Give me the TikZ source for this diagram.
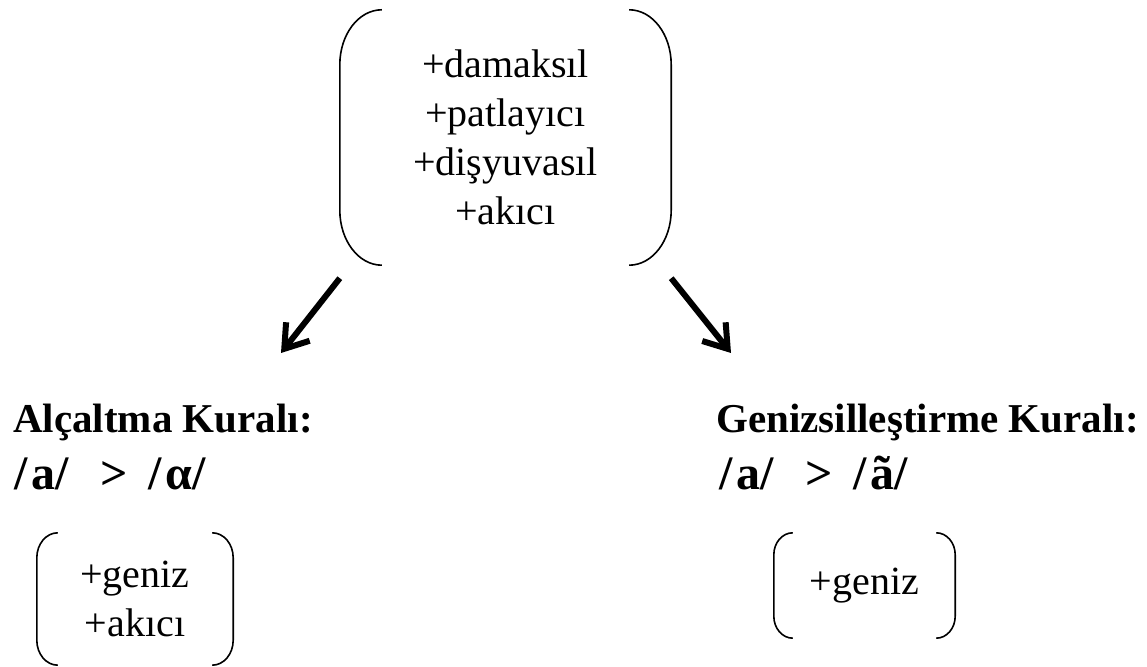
\documentclass[tikz,border=0pt]{standalone}
\usepackage{fontspec}
\setmainfont{Liberation Serif}
\usetikzlibrary{arrows.meta}
\newcommand\featbrackets[3]{%
  \draw[brk] ([xshift=#2pt]#1.north west) arc[start angle=90,end angle=180,x radius=#2pt,y radius=#3pt]
     -- ([yshift=#3pt]#1.south west) arc[start angle=180,end angle=270,x radius=#2pt,y radius=#3pt];
  \draw[brk] ([xshift=-#2pt]#1.north east) arc[start angle=90,end angle=0,x radius=#2pt,y radius=#3pt]
     -- ([yshift=#3pt]#1.south east) arc[start angle=0,end angle=-90,x radius=#2pt,y radius=#3pt];
}
\begin{document}
\begin{tikzpicture}[x=1pt,y=1pt,
  feat/.style={font=\fontsize{40}{49}\selectfont, align=center, inner sep=0pt},
  rulehead/.style={font=\fontsize{41}{48}\selectfont\bfseries, anchor=base west, inner sep=0pt},
  phon/.style={font=\fontsize{48}{52}\selectfont\bfseries, anchor=base west, inner sep=0pt},
  brk/.style={line width=1.6pt},
  arr/.style={line width=6pt, -{Straight Barb[length=22pt,width=30pt]}}]
\useasboundingbox (0,0) rectangle (1147,666);

\node[feat, minimum width=331pt, minimum height=255pt] (top) at (505.5,528.5)
  {+damaksıl\\+patlayıcı\\+dişyuvasıl\\+akıcı};
\featbrackets{top}{42}{55}

\node[rulehead] (lhead) at (13,233) {Alçaltma Kuralı:};
\node[phon] (lphon) at (14,176) {/\hspace{4pt}a/\hspace{32pt}>\hspace{20pt}/\hspace{4pt}α/};
\node[rulehead] (rhead) at (716,233) {Genizsilleştirme Kuralı:};
\node[phon] (rphon) at (719,176) {/\hspace{4pt}a/\hspace{32pt}>\hspace{20pt}/\hspace{4pt}ã/};

\node[feat, minimum width=196pt, minimum height=132pt] (lbox) at (135,67) {+geniz\\+akıcı};
\featbrackets{lbox}{21}{25}
\node[feat, minimum width=181pt, minimum height=105pt] (rbox) at (864.5,80.5) {+geniz};
\featbrackets{rbox}{19}{22}

\coordinate (la) at ([yshift=-13pt]top.south west);
\coordinate (ra) at ([yshift=-13pt]top.south east);
\coordinate (lb) at (281,313);
\coordinate (rb) at (731,313);
\draw[arr] (la) -- (lb);
\draw[arr] (ra) -- (rb);
\end{tikzpicture}
\end{document}
